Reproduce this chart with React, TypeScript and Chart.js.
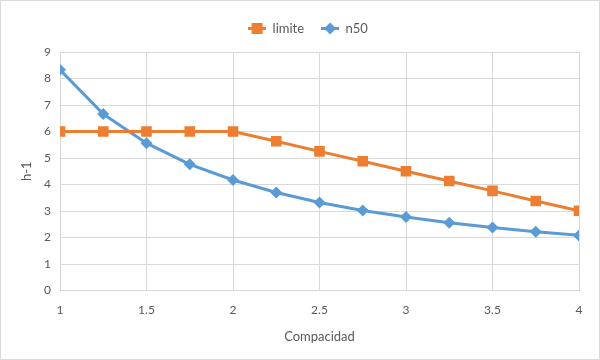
import React, { useEffect, useRef } from "react";
import { Chart, registerables } from "chart.js";

Chart.register(...registerables);

const xValues = [1, 1.25, 1.5, 1.75, 2, 2.25, 2.5, 2.75, 3, 3.25, 3.5, 3.75, 4];
const limiteValues = [6, 6, 6, 6, 6, 5.63, 5.25, 4.88, 4.5, 4.13, 3.76, 3.38, 3.01];
const n50Values = [8.33, 6.66, 5.56, 4.76, 4.17, 3.7, 3.32, 3.02, 2.77, 2.56, 2.38, 2.22, 2.08];
const seriesNames = ["limite", "n50"];
const seriesColors = ["#ED7D31", "#5B9BD5"];
const xTitle = "Compacidad";
const yTitle = "h-1";

const FONT = "Lato, 'Liberation Sans', sans-serif";
const TEXT = "#595959";
const GRID = "#d9d9d9";

function legendIcon(color: string, diamond: boolean): HTMLCanvasElement {
  const c = document.createElement("canvas");
  c.width = 18;
  c.height = 13;
  const g = c.getContext("2d")!;
  g.strokeStyle = color;
  g.lineWidth = 3;
  g.beginPath();
  g.moveTo(0, 6.5);
  g.lineTo(18, 6.5);
  g.stroke();
  g.fillStyle = color;
  if (diamond) {
    g.beginPath();
    g.moveTo(9, 0.5);
    g.lineTo(15, 6.5);
    g.lineTo(9, 12.5);
    g.lineTo(3, 6.5);
    g.closePath();
    g.fill();
  } else {
    g.fillRect(3.5, 1, 11, 11);
  }
  return c;
}

const layoutFix = {
  id: "layoutFix",
  beforeLayout(chart: any) {
    const lg = chart.legend;
    if (lg && !lg.__patched) {
      const orig = lg.fit;
      lg.fit = function (this: any) {
        orig.call(this);
        this.height = 51;
      };
      lg.__patched = true;
    }
  },
  afterLayout(chart: any) {
    const lg = chart.legend;
    if (lg) {
      lg.left += 36;
      lg.top += 4;
    }
  },
};

export default function App() {
  const ref = useRef<HTMLCanvasElement>(null);
  useEffect(() => {
    document.body.style.margin = "0";
    const icons = [legendIcon(seriesColors[0], false), legendIcon(seriesColors[1], true)];
    const ctx = ref.current!;
    const chart = new Chart(ctx, {
      type: "line",
      plugins: [layoutFix],
      data: {
        datasets: [
          {
            label: seriesNames[0],
            data: xValues.map((x, i) => ({ x, y: limiteValues[i] })),
            borderColor: seriesColors[0],
            backgroundColor: seriesColors[0],
            borderWidth: 3,
            pointStyle: "rect",
            pointRadius: 7.5,
            pointBorderWidth: 0,
          },
          {
            label: seriesNames[1],
            data: xValues.map((x, i) => ({ x, y: n50Values[i] })),
            borderColor: seriesColors[1],
            backgroundColor: seriesColors[1],
            borderWidth: 3,
            pointStyle: "rectRot",
            pointRadius: 6,
            pointBorderWidth: 0,
          },
        ],
      },
      options: {
        animation: false,
        responsive: false,
        layout: { padding: { top: 0, right: 20, bottom: 0, left: 0 } },
        plugins: {
          legend: {
            position: "top",
            labels: {
              usePointStyle: true,
              pointStyleWidth: 18,
              color: TEXT,
              font: { family: FONT, size: 13 },
              padding: 17,
              generateLabels: (ch: any) => {
                const items = Chart.defaults.plugins.legend.labels.generateLabels(ch);
                return items.map((it: any, i: number) => ({ ...it, pointStyle: icons[i] }));
              },
            },
          },
          tooltip: { enabled: false },
        },
        scales: {
          x: {
            type: "linear",
            min: 1,
            max: 4,
            afterFit: (s: any) => {
              s.height = 68.5;
            },
            ticks: {
              stepSize: 0.5,
              color: TEXT,
              font: { family: FONT, size: 12 },
              padding: 12,
              callback: (v: any) => String(v),
            },
            grid: { color: GRID, lineWidth: 1, drawTicks: false },
            border: { color: GRID },
            title: { display: true, text: xTitle, color: TEXT, font: { family: FONT, size: 13 }, padding: { top: 4, bottom: 14 } },
          },
          y: {
            min: 0,
            max: 9,
            afterFit: (s: any) => {
              s.width = 59;
            },
            ticks: { stepSize: 1, color: TEXT, font: { family: FONT, size: 12 }, padding: 9 },
            grid: { color: GRID, lineWidth: 1, drawTicks: false },
            border: { display: false },
            title: { display: true, text: yTitle, color: TEXT, font: { family: FONT, size: 13 }, padding: { top: 18, bottom: 2 } },
          },
        },
      },
    });
    return () => chart.destroy();
  }, []);
  return (
    <div style={{ position: "relative", width: 600, height: 360, boxSizing: "border-box", border: "1px solid #d9d9d9", background: "#fff" }}>
      <canvas ref={ref} width={598} height={358} style={{ display: "block" }} />
    </div>
  );
}
